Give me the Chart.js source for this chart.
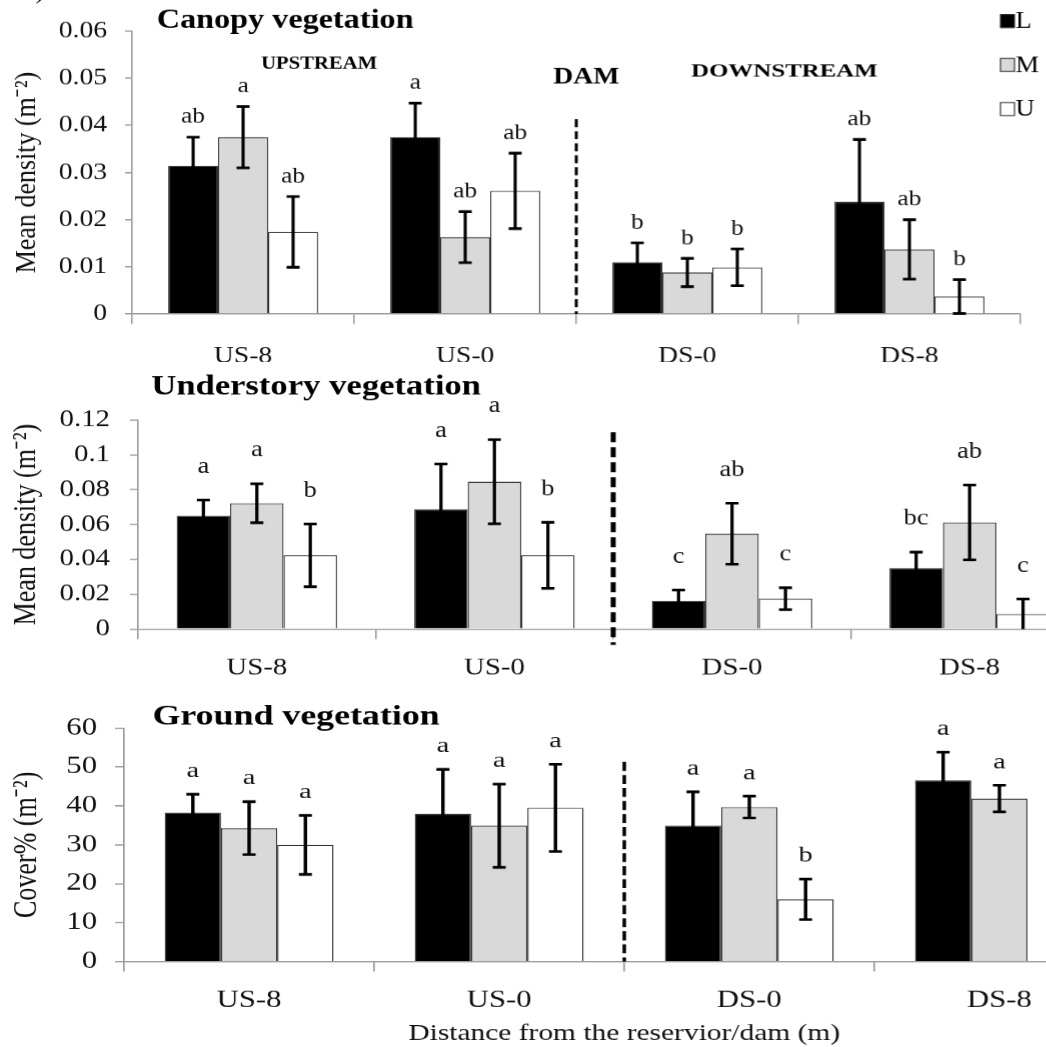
<!DOCTYPE html>
<html>
<head>
<meta charset="utf-8">
<script src="https://cdn.jsdelivr.net/npm/chart.js@4.4.1/dist/chart.umd.min.js"></script>
<style>
  html, body { margin: 0; padding: 0; background: #fff; overflow: hidden; }
  #page { position: relative; width: 1046px; height: 1047px; overflow: hidden; background: #fff; }
  .panel { position: absolute; left: 0; width: 1046px; overflow: hidden; }
  canvas { display: block; transform-origin: 0 0; }
</style>
</head>
<body>
<div id="page">
  <div class="panel" style="top:0;height:362px"><canvas id="canopy"></canvas></div>
  <div class="panel" style="top:362px;height:314px"><canvas id="understory"></canvas></div>
  <div class="panel" style="top:676px;height:371px"><canvas id="ground"></canvas></div>
</div>
<script>
const SERIF = '"Liberation Serif", "Times New Roman", serif';

const categories = ['US-8', 'US-0', 'DS-0', 'DS-8'];
const seriesNames = ['L', 'M', 'U'];
const seriesFill = ['#000000', '#d9d9d9', '#ffffff'];

// canopy vegetation, mean density (m-2)
const canopyL = [0.0314, 0.0375, 0.0110, 0.0238];
const canopyM = [0.0375, 0.0163, 0.0088, 0.0137];
const canopyU = [0.0174, 0.0261, 0.0099, 0.0037];
const canopyErrL = [0.0061, 0.0072, 0.0041, 0.0132];
const canopyErrM = [0.0065, 0.0054, 0.0030, 0.0063];
const canopyErrU = [0.0075, 0.0080, 0.0039, 0.0036];
const canopyLetL = ['ab', 'a', 'b', 'ab'];
const canopyLetM = ['a', 'ab', 'b', 'ab'];
const canopyLetU = ['ab', 'ab', 'b', 'b'];
const canopyTicks = ['0', '0.01', '0.02', '0.03', '0.04', '0.05', '0.06'];

// understory vegetation, mean density (m-2)
const underL = [0.0650, 0.0687, 0.0161, 0.0350];
const underM = [0.0722, 0.0846, 0.0547, 0.0612];
const underU = [0.0423, 0.0423, 0.0174, 0.0086];
const underErrL = [0.0090, 0.0260, 0.0063, 0.0092];
const underErrM = [0.0112, 0.0242, 0.0175, 0.0215];
const underErrU = [0.0180, 0.0190, 0.0063, 0.0086];
const underLetL = ['a', 'a', 'c', 'bc'];
const underLetM = ['a', 'a', 'ab', 'ab'];
const underLetU = ['b', 'b', 'c', 'c'];
const underTicks = ['0', '0.02', '0.04', '0.06', '0.08', '0.1', '0.12'];

// ground vegetation, cover %
const groundL = [38.3, 38.0, 34.9, 46.6];
const groundM = [34.3, 34.9, 39.7, 41.9];
const groundU = [30.0, 39.5, 16.0, null];
const groundErrL = [4.7, 11.4, 8.7, 7.2];
const groundErrM = [6.8, 10.7, 2.8, 3.4];
const groundErrU = [7.6, 11.2, 5.2, null];
const groundLetL = ['a', 'a', 'a', 'a'];
const groundLetM = ['a', 'a', 'a', 'a'];
const groundLetU = ['a', 'a', 'b', ''];
const groundTicks = ['0', '10', '20', '30', '40', '50', '60'];

// error bars, letters, dam line, free texts and legend
// (x positions in o.texts / o.legend are page pixels, divided by the panel stretch)
const extras = {
  id: 'extras',
  afterDatasetsDraw(chart, args, o) {
    const ctx = chart.ctx;
    const x = chart.scales.x, y = chart.scales.y, area = chart.chartArea;
    const sx = o.sx;
    ctx.save();

    const xd = (x.getPixelForValue(1) + x.getPixelForValue(2)) / 2;
    ctx.strokeStyle = '#000';
    ctx.lineWidth = o.damWidth / sx;
    ctx.setLineDash(o.damDash);
    ctx.beginPath();
    ctx.moveTo(xd, y.getPixelForValue(o.damTop));
    ctx.lineTo(xd, area.bottom + o.damBelow);
    ctx.stroke();
    ctx.setLineDash([]);

    const cap = 6.5 / sx;
    chart.data.datasets.forEach((ds, i) => {
      chart.getDatasetMeta(i).data.forEach((bar, j) => {
        const v = ds.data[j], e = ds.errors[j];
        if (v == null || e == null) return;
        const top = y.getPixelForValue(v + e);
        const low = v - e;
        ctx.strokeStyle = '#000';
        ctx.lineWidth = 2.7;
        ctx.beginPath();
        ctx.moveTo(bar.x, top);
        ctx.lineTo(bar.x, y.getPixelForValue(Math.max(low, 0)));
        ctx.moveTo(bar.x - cap, top);
        ctx.lineTo(bar.x + cap, top);
        if (low > 0) {
          const yl = y.getPixelForValue(low);
          ctx.moveTo(bar.x - cap, yl);
          ctx.lineTo(bar.x + cap, yl);
        }
        ctx.stroke();
        ctx.fillStyle = '#111';
        ctx.font = '22px ' + SERIF;
        ctx.textAlign = 'center';
        ctx.textBaseline = 'middle';
        ctx.fillText(ds.letters[j], bar.x, top - o.letterGap);
      });
    });

    ctx.fillStyle = '#000';
    ctx.textAlign = 'center';
    ctx.textBaseline = 'middle';
    (o.texts || []).forEach(t => {
      ctx.save();
      ctx.font = t.font;
      ctx.translate(t.x / sx, t.y);
      ctx.scale(t.k || 1, 1);
      ctx.fillText(t.text, 0, 0);
      ctx.restore();
    });

    if (o.legend) {
      const lg = o.legend;
      const lx = lg.x / sx, bw = 14 / sx;
      ctx.textAlign = 'left';
      ctx.font = '23px ' + SERIF;
      chart.data.datasets.forEach((ds, i) => {
        const cy = lg.y + i * lg.gap;
        ctx.fillStyle = ds.backgroundColor;
        ctx.fillRect(lx, cy - 7, bw, 14);
        ctx.strokeStyle = '#333';
        ctx.lineWidth = 1;
        ctx.strokeRect(lx, cy - 6.5, bw, 13);
        ctx.fillStyle = '#000';
        ctx.fillText(ds.label, lx + bw + 1 / sx, cy + 1);
      });
    }
    ctx.restore();
  }
};

function makeDatasets(values, errors, letters) {
  return seriesNames.map((name, i) => ({
    label: name,
    data: values[i],
    errors: errors[i],
    letters: letters[i],
    backgroundColor: seriesFill[i],
    borderColor: '#333',
    borderWidth: 1.1,
    categoryPercentage: 0.675,
    barPercentage: 1.0
  }));
}

// p holds page-pixel geometry; the canvas is drawn narrower and stretched by p.sx
function makePanel(id, p) {
  const canvas = document.getElementById(id);
  const w = Math.round(p.width / p.sx);
  canvas.width = w;
  canvas.height = p.height;
  canvas.style.width = w + 'px';
  canvas.style.height = p.height + 'px';
  canvas.style.transform = 'scaleX(' + p.sx + ')';
  const yTitleFont = 26;
  return new Chart(canvas, {
    type: 'bar',
    data: {
      labels: categories,
      datasets: makeDatasets(p.values, p.errors, p.letters)
    },
    plugins: [extras],
    options: {
      responsive: false,
      animation: false,
      events: [],
      devicePixelRatio: p.sx,
      layout: { padding: { top: p.top, right: w - p.right / p.sx, bottom: 0, left: 0 } },
      plugins: {
        legend: { display: false },
        tooltip: { enabled: false },
        extras: Object.assign({ sx: p.sx }, p.extras)
      },
      scales: {
        x: {
          offset: true,
          grid: { offset: true, drawOnChartArea: false, tickLength: 10, color: '#999', lineWidth: 1.3 },
          border: { color: '#999', width: 1.3 },
          ticks: { color: '#111', font: { family: SERIF, size: 24 }, padding: p.xPad, maxRotation: 0 },
          title: p.xTitle ? { display: true, text: p.xTitle, color: '#111', font: { family: SERIF, size: 23 }, padding: { top: 0, bottom: 0 } } : { display: false },
          afterFit: s => { s.height = p.xHeight; }
        },
        y: {
          min: 0,
          max: p.max,
          grid: { drawOnChartArea: false, tickLength: p.yTick / p.sx, color: '#999', lineWidth: 1.3 },
          border: { color: '#999', width: 1.3 },
          ticks: {
            stepSize: p.step,
            color: '#111',
            font: { family: SERIF, size: 24 },
            padding: p.yPad / p.sx,
            callback: (v, i) => p.ticks[i]
          },
          title: {
            display: true, text: p.yTitle, color: '#111',
            font: { family: SERIF, size: yTitleFont },
            padding: { top: 27 / p.sx - yTitleFont * 0.6, bottom: 0 }
          },
          afterFit: s => { s.width = p.yWidth / p.sx; }
        }
      }
    }
  });
}

makePanel('canopy', {
  values: [canopyL, canopyM, canopyU],
  errors: [canopyErrL, canopyErrM, canopyErrU],
  letters: [canopyLetL, canopyLetM, canopyLetU],
  ticks: canopyTicks, max: 0.06, step: 0.01,
  sx: 1.15, width: 1046, height: 380,
  top: 31, right: 1020, yWidth: 132, xHeight: 66, xPad: 18, yPad: 18, yTick: 7,
  yTitle: 'Mean density (m\u207B\u00B2)',
  extras: {
    damTop: 0.0413, damBelow: 0, damWidth: 3, damDash: [8, 4], letterGap: 20,
    texts: [
      { text: ')', x: 40, y: -8, font: '24px ' + SERIF },
      { text: 'Canopy vegetation', x: 285, y: 21, font: 'bold 28px ' + SERIF },
      { text: 'UPSTREAM', x: 319, y: 64, font: 'bold 18px ' + SERIF },
      { text: 'DAM', x: 586, y: 77, font: 'bold 24px ' + SERIF },
      { text: 'DOWNSTREAM', x: 784, y: 72, font: 'bold 18px ' + SERIF, k: 1.2 }
    ],
    legend: { x: 1000, y: 21, gap: 44 }
  }
});

makePanel('understory', {
  values: [underL, underM, underU],
  errors: [underErrL, underErrM, underErrU],
  letters: [underLetL, underLetM, underLetU],
  ticks: underTicks, max: 0.12, step: 0.02,
  sx: 1.2, width: 1100, height: 345,
  top: 58, right: 1088, yWidth: 138, xHeight: 78, xPad: 15, yPad: 20, yTick: 8,
  yTitle: 'Mean density (m\u207B\u00B2)',
  extras: {
    damTop: 0.113, damBelow: 16, damWidth: 5, damDash: [10, 5], letterGap: 33,
    texts: [
      { text: 'Understory vegetation', x: 316, y: 25, font: 'bold 28px ' + SERIF, k: 1.03 }
    ]
  }
});

makePanel('ground', {
  values: [groundL, groundM, groundU],
  errors: [groundErrL, groundErrM, groundErrU],
  letters: [groundLetL, groundLetM, groundLetU],
  ticks: groundTicks, max: 60, step: 10,
  sx: 1.28, width: 1140, height: 371,
  top: 52, right: 1124, yWidth: 124, xHeight: 86, xPad: 15, yPad: 18, yTick: 9,
  yTitle: 'Cover% (m\u207B\u00B2)',
  xTitle: 'Distance from the reservior/dam (m)',
  extras: {
    damTop: 51.3, damBelow: 0, damWidth: 3.5, damDash: [9, 4], letterGap: 23,
    texts: [
      { text: 'Ground vegetation', x: 296, y: 41, font: 'bold 28px ' + SERIF }
    ]
  }
});
</script>
</body>
</html>
